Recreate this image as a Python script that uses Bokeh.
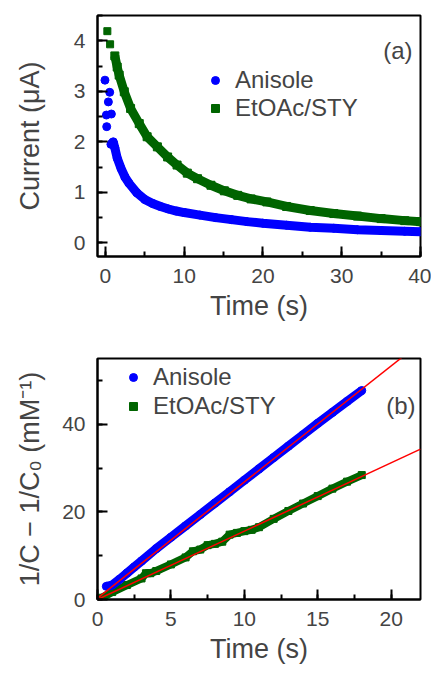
from bokeh.plotting import figure
from bokeh.layouts import column
from bokeh.models import (Range1d, SingleIntervalTicker, Legend, LegendItem, Label)
from bokeh.embed import file_html
from bokeh.resources import INLINE

FONT = "Liberation Sans"
BLUE = "#0000FF"
GREEN = "#006400"
RED = "#FF0000"

# ---------------- Panel (a): current decay ----------------
anisole_early_t = [-0.05, 0.55, 0.38, 0.13, 0.76, 0.17]
anisole_early_i = [3.22, 2.98, 2.79, 2.53, 2.55, 2.30]
anisole_t = [0.7, 1.0, 1.2, 1.5, 2.0, 2.5, 3.0, 4.0, 5.0, 6.0, 7.0, 8.0, 9.0, 10.0,
             12.0, 14.0, 16.0, 18.0, 20.0, 23.0, 26.0, 29.0, 32.0, 35.0, 38.0, 40.0]
anisole_i = [1.95, 2.00, 1.88, 1.68, 1.47, 1.30, 1.18, 0.99, 0.86, 0.78, 0.72, 0.67, 0.63, 0.60,
             0.55, 0.50, 0.46, 0.42, 0.39, 0.35, 0.31, 0.29, 0.26, 0.245, 0.23, 0.22]

etoac_early_t = [0.25, 0.6]
etoac_early_i = [4.19, 3.93]
etoac_t = [1.2, 1.5, 1.75, 2.4, 3.2, 4.3, 5.3, 6.6, 7.9, 9.1, 10.4, 11.7, 13.4, 15.1,
           16.8, 18.5, 20.5, 23.0, 26.0, 29.0, 32.0, 35.0, 38.0, 40.0]
etoac_i = [3.70, 3.48, 3.32, 2.99, 2.66, 2.36, 2.10, 1.90, 1.70, 1.54, 1.38, 1.27, 1.14, 1.03,
           0.94, 0.87, 0.81, 0.72, 0.64, 0.58, 0.53, 0.48, 0.44, 0.42]

# ---------------- Panel (b): 1/C - 1/C0 ----------------
anisole_b_t = [0.6, 1.0, 1.5, 2.0, 2.5, 3.0, 4.0, 5.0, 6.0, 7.0, 8.0, 9.0, 10.0, 11.0,
               12.0, 13.0, 14.0, 15.0, 16.0, 17.0, 18.0]
anisole_b_y = [3.0, 3.3, 4.6, 6.0, 7.4, 8.8, 11.6, 14.2, 16.8, 19.4, 22.0, 24.6, 27.2, 29.8,
               32.4, 35.0, 37.6, 40.2, 42.7, 45.2, 47.7]
etoac_b_t = [0.3, 1.0, 2.0, 3.0, 3.3, 3.6, 4.0, 5.0, 6.0, 6.5, 7.0, 7.5, 8.0, 8.5, 9.0,
             9.5, 10.0, 10.5, 11.0, 12.0, 13.0, 14.0, 15.0, 16.0, 17.0, 18.0]
etoac_b_y = [0.4, 1.7, 3.3, 4.8, 6.0, 6.0, 6.5, 8.0, 9.6, 11.0, 11.4, 12.4, 12.7, 13.2, 14.8,
             15.2, 15.6, 15.9, 16.5, 18.4, 20.2, 21.9, 23.6, 25.3, 26.9, 28.4]

# linear fits: slope, intercept
fit_slopes = [2.65, 1.56]
fit_intercepts = [0.3, 0.0]


def style(p, xint, yint):
    p.xaxis.ticker = SingleIntervalTicker(interval=xint, num_minor_ticks=2)
    p.yaxis.ticker = SingleIntervalTicker(interval=yint, num_minor_ticks=2)
    for ax in (p.xaxis[0], p.yaxis[0]):
        ax.axis_line_width = 2
        ax.major_tick_in = 10
        ax.major_tick_out = 0
        ax.minor_tick_in = 5
        ax.minor_tick_out = 0
        ax.major_tick_line_width = 2
        ax.minor_tick_line_width = 2
        ax.major_tick_line_color = "black"
        ax.minor_tick_line_color = "black"
        ax.major_label_text_font = FONT
        ax.major_label_text_font_size = "21px"
        ax.axis_label_text_font = FONT
        ax.axis_label_text_font_size = "27px"
        ax.axis_label_text_font_style = "normal"
        ax.major_label_standoff = 12
    p.xgrid.visible = False
    p.ygrid.visible = False
    p.outline_line_color = "black"
    p.outline_line_width = 2


# ----- figure a (no join/cap, no label standoffs) -----
pa = figure(width=431, height=330, output_backend="svg", toolbar_location=None,
            x_range=Range1d(-1, 40), y_range=Range1d(-0.27, 4.5),
            min_border_left=97, min_border_right=11, min_border_top=15, min_border_bottom=74)
pa.xaxis.axis_label = "Time (s)"
pa.yaxis.axis_label = "Current (\u03bcA)"
style(pa, 10, 1)
pa.yaxis[0].axis_label_standoff = 26

pa.line(etoac_t, etoac_i, line_color=GREEN, line_width=9)
r_ge = pa.scatter(etoac_early_t, etoac_early_i, marker="square", size=7, color=GREEN)
pa.scatter(etoac_t, etoac_i, marker="square", size=8, color=GREEN)
pa.line(anisole_t, anisole_i, line_color=BLUE, line_width=9)
r_be = pa.scatter(anisole_early_t, anisole_early_i, marker="circle", size=8, color=BLUE)
pa.scatter(anisole_t, anisole_i, marker="circle", size=8, color=BLUE)

pa.add_layout(Legend(items=[LegendItem(label="Anisole", renderers=[r_be]),
                            LegendItem(label="EtOAc/STY", renderers=[r_ge])],
                     location=(108, 134), padding=0, margin=0, spacing=0,
                     glyph_width=20, glyph_height=20, label_standoff=10,
                     label_text_font=FONT, label_text_font_size="24px",
                     border_line_alpha=0, background_fill_alpha=0))
pa.add_layout(Label(x=315, y=206, x_units="screen", y_units="screen", text="(a)",
                    text_font=FONT, text_font_size="24px", text_align="right",
                    text_baseline="middle"))

# ----- figure b -----
xb_range = (0, 22)
pb = figure(width=431, height=343, output_backend="svg", toolbar_location=None,
            x_range=Range1d(*xb_range), y_range=Range1d(0, 55),
            min_border_left=97, min_border_right=11, min_border_top=28, min_border_bottom=74)
pb.xaxis.axis_label = "Time (s)"
pb.yaxis.axis_label = "1/C \u2212 1/C\u2080 (mM\u207b\u00b9)"
style(pb, 5, 20)
pb.yaxis[0].axis_label_standoff = 14

pb.line(etoac_b_t, etoac_b_y, line_color=GREEN, line_width=8)
r_gb = pb.scatter(etoac_b_t, etoac_b_y, marker="square", size=7, color=GREEN)
pb.line(anisole_b_t, anisole_b_y, line_color=BLUE, line_width=9)
r_bb = pb.scatter(anisole_b_t, anisole_b_y, marker="circle", size=8, color=BLUE)

for s, c in zip(fit_slopes, fit_intercepts):
    xs = list(xb_range)
    pb.line(xs, [c + s * x for x in xs], line_color=RED, line_width=1.5)

pb.add_layout(Legend(items=[LegendItem(label="Anisole", renderers=[r_bb]),
                            LegendItem(label="EtOAc/STY", renderers=[r_gb])],
                     location=(26, 179), padding=0, margin=0, spacing=1,
                     glyph_width=20, glyph_height=20, label_standoff=10,
                     label_text_font=FONT, label_text_font_size="24px",
                     border_line_alpha=0, background_fill_alpha=0))
pb.add_layout(Label(x=318, y=194, x_units="screen", y_units="screen", text="(b)",
                    text_font=FONT, text_font_size="24px", text_align="right",
                    text_baseline="middle"))

layout = column(pa, pb, spacing=0)
open("out.html", "w").write(file_html(layout, INLINE))
